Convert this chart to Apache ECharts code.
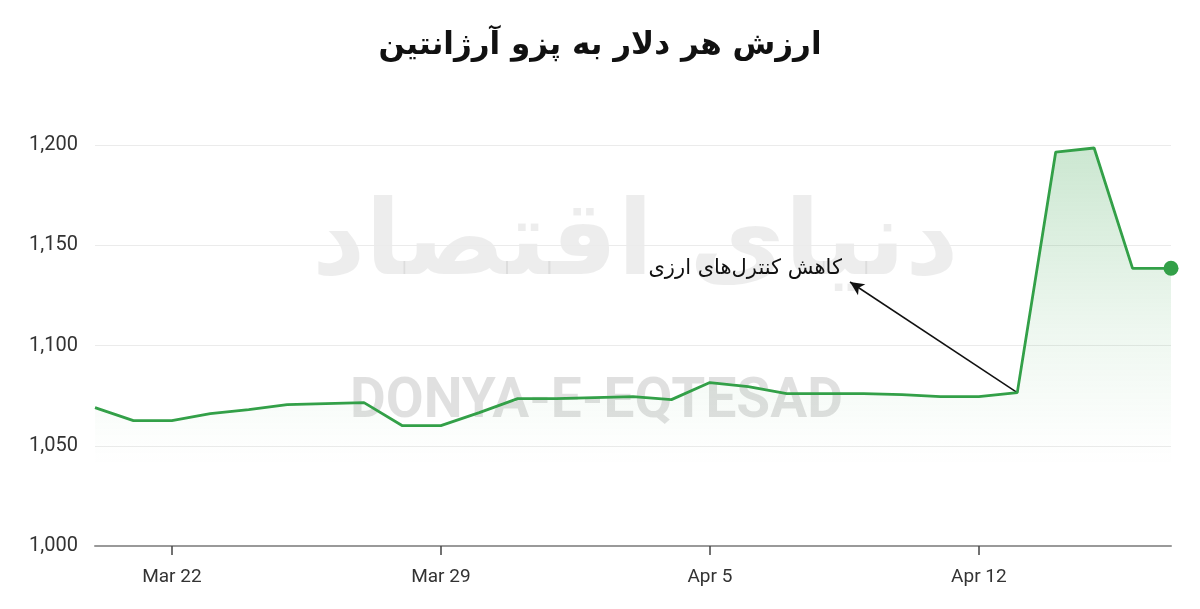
<!DOCTYPE html>
<html><head><meta charset="utf-8">
<script src="https://cdn.jsdelivr.net/npm/echarts@6/dist/echarts.min.js"></script>
<style>html,body{margin:0;padding:0;background:#fff}#c{width:1200px;height:609px}</style>
</head><body><div id="c"></div>
<script>
const titleText = 'ارزش هر دلار به پزو آرژانتین';
const annotationText = 'کاهش کنترل‌های ارزی';
const watermarkLatin = 'DONYA-E-EQTESAD';
const watermarkPersian = 'دنیای اقتصاد';
const dates = ['Mar 20','Mar 21','Mar 22','Mar 23','Mar 24','Mar 25','Mar 26','Mar 27','Mar 28','Mar 29','Mar 30','Mar 31','Apr 1','Apr 2','Apr 3','Apr 4','Apr 5','Apr 6','Apr 7','Apr 8','Apr 9','Apr 10','Apr 11','Apr 12','Apr 13','Apr 14','Apr 15','Apr 16','Apr 17'];
const values = [1069,1062.5,1062.5,1066,1068,1070.5,1071,1071.5,1060,1060,1066.5,1073.5,1073.5,1074,1074.5,1073,1081.5,1079.5,1076,1076,1076,1075.5,1074.5,1074.5,1076.5,1196.5,1198.5,1138.5,1138.5];
const yMin = 1000, yMax = 1200, yStep = 50;
const tickLabels = ['Mar 22','Mar 29','Apr 5','Apr 12'];
const annotIdx = 24;

const chart = echarts.init(document.getElementById('c'));
const isTick = (i) => tickLabels.indexOf(dates[i]) >= 0;
chart.setOption({
  animation:false,
  title:{text:titleText,left:'center',top:25,textStyle:{fontFamily:'DejaVu Sans',fontWeight:'bold',fontSize:31,color:'#111'}},
  grid:{left:95,right:29,top:145,bottom:63},
  graphic:[
    {type:'text',left:312,top:195,z:0,style:{text:watermarkPersian,font:'bold 104px "DejaVu Sans"',fill:'rgba(0,0,0,0.07)'}},
    {type:'text',left:350,top:376,z:0,style:{text:watermarkLatin,font:'bold 55px Roboto',fill:'rgba(0,0,0,0.12)'}},
    {type:'text',right:358,top:258,z:10,style:{text:annotationText,font:'21px "DejaVu Sans"',fill:'#111'}}
  ],
  xAxis:{type:'category',data:dates,boundaryGap:false,
    axisLine:{lineStyle:{color:'#999',width:2}},
    axisTick:{show:true,alignWithLabel:true,interval:(i)=>isTick(i),length:9,lineStyle:{color:'#444',width:1.5}},
    axisLabel:{interval:(i)=>isTick(i),margin:22,color:'#333',fontSize:19,fontFamily:'Roboto'},
    splitLine:{show:false}},
  yAxis:{type:'value',min:yMin,max:yMax,interval:yStep,
    axisLine:{show:false},axisTick:{show:false},
    axisLabel:{margin:17,color:'#333',fontSize:20,fontFamily:'Roboto',formatter:(v)=>v.toLocaleString('en-US')},
    splitLine:{lineStyle:{color:'#ebebeb',width:1}}},
  series:[{type:'line',data:values,z:5,
    symbol:'none',
    lineStyle:{color:'#33a048',width:2.8},
    areaStyle:{origin:'start',color:new echarts.graphic.LinearGradient(0,0,0,1,[{offset:0,color:'rgba(51,160,72,0.36)'},{offset:0.45,color:'rgba(51,160,72,0.12)'},{offset:0.72,color:'rgba(51,160,72,0.02)'},{offset:0.8,color:'rgba(51,160,72,0)'},{offset:1,color:'rgba(51,160,72,0)'}])},
    markPoint:{symbol:'circle',symbolSize:15,label:{show:false},itemStyle:{color:'#33a048'},
      data:[{coord:[dates.length-1,values[values.length-1]]}]},
    markLine:{silent:true,symbol:['none','arrow'],symbolSize:[10,14],label:{show:false},
      lineStyle:{color:'#111',width:1.5,type:'solid'},
      data:[[{coord:[annotIdx,values[annotIdx]]},{x:850,y:282}]]}
  }]
});
</script></body></html>
